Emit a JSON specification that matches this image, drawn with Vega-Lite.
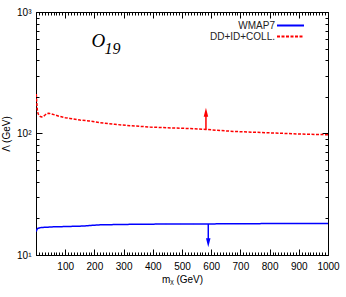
{
  "$schema": "https://vega.github.io/schema/vega-lite/v6.json",
  "width": 292,
  "height": 243,
  "autosize": {"type": "none"},
  "padding": {"left": 36, "top": 12, "right": 18, "bottom": 42},
  "config": {
    "view": {"stroke": "black", "strokeWidth": 1},
    "font": "Liberation Sans",
    "axis": {"grid": false, "domain": false, "zindex": 1, "tickColor": "black", "tickWidth": 1, "labelColor": "black", "labelFontSize": 10, "labelOverlap": false, "labelFlush": false, "labelFont": "Liberation Sans", "titleFont": "Liberation Sans", "titleFontSize": 10, "titleFontWeight": "normal", "titleColor": "black"}
  },
  "datasets": {
    "curves": [
      {"m": 1, "lam": 211, "series": "DD+ID+COLL."},
      {"m": 2, "lam": 189, "series": "DD+ID+COLL."},
      {"m": 4, "lam": 160, "series": "DD+ID+COLL."},
      {"m": 7, "lam": 146, "series": "DD+ID+COLL."},
      {"m": 10, "lam": 142, "series": "DD+ID+COLL."},
      {"m": 15, "lam": 138, "series": "DD+ID+COLL."},
      {"m": 20, "lam": 137, "series": "DD+ID+COLL."},
      {"m": 25, "lam": 138, "series": "DD+ID+COLL."},
      {"m": 31, "lam": 142, "series": "DD+ID+COLL."},
      {"m": 38, "lam": 146, "series": "DD+ID+COLL."},
      {"m": 44, "lam": 147, "series": "DD+ID+COLL."},
      {"m": 52, "lam": 145, "series": "DD+ID+COLL."},
      {"m": 65, "lam": 142, "series": "DD+ID+COLL."},
      {"m": 82, "lam": 138, "series": "DD+ID+COLL."},
      {"m": 100, "lam": 135, "series": "DD+ID+COLL."},
      {"m": 116, "lam": 133, "series": "DD+ID+COLL."},
      {"m": 151, "lam": 129, "series": "DD+ID+COLL."},
      {"m": 181, "lam": 127, "series": "DD+ID+COLL."},
      {"m": 219, "lam": 122.7, "series": "DD+ID+COLL."},
      {"m": 270, "lam": 119, "series": "DD+ID+COLL."},
      {"m": 322, "lam": 116, "series": "DD+ID+COLL."},
      {"m": 390, "lam": 113, "series": "DD+ID+COLL."},
      {"m": 447, "lam": 111.5, "series": "DD+ID+COLL."},
      {"m": 520, "lam": 110, "series": "DD+ID+COLL."},
      {"m": 582, "lam": 108, "series": "DD+ID+COLL."},
      {"m": 676, "lam": 104, "series": "DD+ID+COLL."},
      {"m": 790, "lam": 101.5, "series": "DD+ID+COLL."},
      {"m": 904, "lam": 99, "series": "DD+ID+COLL."},
      {"m": 1000, "lam": 97.7, "series": "DD+ID+COLL."},
      {"m": 1, "lam": 15.6, "series": "WMAP7"},
      {"m": 3, "lam": 16.2, "series": "WMAP7"},
      {"m": 7, "lam": 16.6, "series": "WMAP7"},
      {"m": 15, "lam": 16.8, "series": "WMAP7"},
      {"m": 31, "lam": 16.9, "series": "WMAP7"},
      {"m": 60, "lam": 17.05, "series": "WMAP7"},
      {"m": 82, "lam": 17.1, "series": "WMAP7"},
      {"m": 120, "lam": 17.2, "series": "WMAP7"},
      {"m": 160, "lam": 17.3, "series": "WMAP7"},
      {"m": 185, "lam": 17.5, "series": "WMAP7"},
      {"m": 219, "lam": 17.7, "series": "WMAP7"},
      {"m": 300, "lam": 17.85, "series": "WMAP7"},
      {"m": 400, "lam": 17.95, "series": "WMAP7"},
      {"m": 562, "lam": 18.0, "series": "WMAP7"},
      {"m": 700, "lam": 18.1, "series": "WMAP7"},
      {"m": 850, "lam": 18.15, "series": "WMAP7"},
      {"m": 1000, "lam": 18.2, "series": "WMAP7"}
    ],
    "arrows": [
      {"m": 582, "from": 108, "to": 149.5, "series": "DD+ID+COLL."},
      {"m": 590, "from": 18.0, "to": 12.6, "series": "WMAP7"}
    ]
  },
  "layer": [
    {
      "data": {"name": "curves"},
      "mark": {"type": "line", "strokeWidth": 1.5, "clip": true},
      "encoding": {
        "x": {"field": "m", "type": "quantitative", "scale": {"domain": [0, 1000], "nice": false, "zero": false},
              "axis": {"orient": "bottom", "values": [100, 200, 300, 400, 500, 600, 700, 800, 900, 1000], "format": "d", "ticks": false, "labelPadding": 6, "title": "mᵪ (GeV)", "titlePadding": 3}},
        "y": {"field": "lam", "type": "quantitative", "scale": {"type": "log", "domain": [10, 1000], "nice": false},
              "axis": {"orient": "left", "values": [10, 100, 1000], "ticks": false, "labelPadding": 5, "labelExpr": "datum.value == 10 ? '10¹' : datum.value == 100 ? '10²' : '10³'", "title": "Λ (GeV)", "titlePadding": 5}},
        "color": {"field": "series", "type": "nominal", "sort": ["WMAP7", "DD+ID+COLL."],
                  "scale": {"domain": ["WMAP7", "DD+ID+COLL."], "range": ["#0000ff", "#ff0000"]},
                  "legend": {"title": null, "orient": "none", "legendX": 249, "legendY": 8, "padding": 0, "labelFontSize": 10, "labelColor": "#222", "symbolType": "M-3,0L3,0", "symbolSize": 81, "symbolStrokeWidth": 2, "labelAlign": "right", "labelOffset": -21, "rowPadding": -6}},
        "strokeDash": {"field": "series", "type": "nominal", "sort": ["WMAP7", "DD+ID+COLL."],
                  "scale": {"domain": ["WMAP7", "DD+ID+COLL."], "range": [[1, 0], [3, 1.5]]},
                  "legend": {"title": null, "orient": "none", "legendX": 249, "legendY": 8, "padding": 0, "labelFontSize": 10, "labelColor": "#222", "symbolType": "M-3,0L3,0", "symbolSize": 81, "symbolStrokeWidth": 2, "labelAlign": "right", "labelOffset": -21, "rowPadding": -6}}
      }
    },
    {
      "data": {"name": "arrows"},
      "mark": {"type": "rule", "strokeWidth": 1.5},
      "encoding": {
        "x": {"field": "m", "type": "quantitative",
              "axis": {"orient": "bottom", "values": [0, 100, 200, 300, 400, 500, 600, 700, 800, 900, 1000], "tickSize": 6, "offset": -6, "labels": false, "title": null}},
        "y": {"field": "from", "type": "quantitative",
              "axis": {"orient": "left", "values": [10, 100, 1000], "tickSize": 6, "offset": -6, "labels": false, "title": null}},
        "y2": {"field": "to"},
        "color": {"field": "series", "type": "nominal", "legend": null}
      }
    },
    {
      "data": {"name": "arrows"},
      "transform": [{"filter": "datum.series == 'DD+ID+COLL.'"}],
      "mark": {"type": "point", "shape": "M-0.5,1L0,-1L0.5,1Z", "size": 81, "filled": true, "opacity": 1, "color": "#ff0000"},
      "encoding": {
        "x": {"field": "m", "type": "quantitative",
              "axis": {"orient": "bottom", "values": [0,10,20,30,40,50,60,70,80,90,100,110,120,130,140,150,160,170,180,190,200,210,220,230,240,250,260,270,280,290,300,310,320,330,340,350,360,370,380,390,400,410,420,430,440,450,460,470,480,490,500,510,520,530,540,550,560,570,580,590,600,610,620,630,640,650,660,670,680,690,700,710,720,730,740,750,760,770,780,790,800,810,820,830,840,850,860,870,880,890,900,910,920,930,940,950,960,970,980,990,1000], "tickSize": 3, "offset": -3, "labels": false, "title": null}},
        "y": {"field": "to", "type": "quantitative",
              "axis": {"orient": "left", "values": [20,30,40,50,60,70,80,90,200,300,400,500,600,700,800,900], "tickSize": 3, "offset": -3, "labels": false, "title": null}}
      }
    },
    {
      "data": {"name": "arrows"},
      "transform": [{"filter": "datum.series == 'WMAP7'"}],
      "mark": {"type": "point", "shape": "M-0.5,-1L0,1L0.5,-1Z", "size": 81, "filled": true, "opacity": 1, "color": "#0000ff"},
      "encoding": {
        "x": {"field": "m", "type": "quantitative",
              "axis": {"orient": "top", "values": [0, 100, 200, 300, 400, 500, 600, 700, 800, 900, 1000], "tickSize": 6, "offset": -6, "labels": false, "title": null}},
        "y": {"field": "to", "type": "quantitative",
              "axis": {"orient": "right", "values": [10, 100, 1000], "tickSize": 6, "offset": -6, "labels": false, "title": null}}
      }
    },
    {
      "data": {"values": [{"main": "O"}]},
      "mark": {"type": "text", "font": "Liberation Serif", "fontStyle": "italic", "fontSize": 19, "align": "left", "baseline": "alphabetic", "color": "black"},
      "encoding": {
        "x": {"datum": 190, "type": "quantitative",
              "axis": {"orient": "top", "values": [0,10,20,30,40,50,60,70,80,90,100,110,120,130,140,150,160,170,180,190,200,210,220,230,240,250,260,270,280,290,300,310,320,330,340,350,360,370,380,390,400,410,420,430,440,450,460,470,480,490,500,510,520,530,540,550,560,570,580,590,600,610,620,630,640,650,660,670,680,690,700,710,720,730,740,750,760,770,780,790,800,810,820,830,840,850,860,870,880,890,900,910,920,930,940,950,960,970,980,990,1000], "tickSize": 3, "offset": -3, "labels": false, "title": null}},
        "y": {"datum": 515, "type": "quantitative",
              "axis": {"orient": "right", "values": [20,30,40,50,60,70,80,90,200,300,400,500,600,700,800,900], "tickSize": 3, "offset": -3, "labels": false, "title": null}},
        "text": {"field": "main"}
      }
    },
    {
      "data": {"values": [{"sub": "19"}]},
      "mark": {"type": "text", "font": "Liberation Serif", "fontStyle": "italic", "fontSize": 16, "align": "left", "baseline": "alphabetic", "dx": 13, "dy": 7, "color": "black"},
      "encoding": {
        "x": {"datum": 190, "type": "quantitative", "axis": null},
        "y": {"datum": 515, "type": "quantitative", "axis": null},
        "text": {"field": "sub"}
      }
    }
  ],
  "resolve": {"axis": {"x": "independent", "y": "independent"}}
}
